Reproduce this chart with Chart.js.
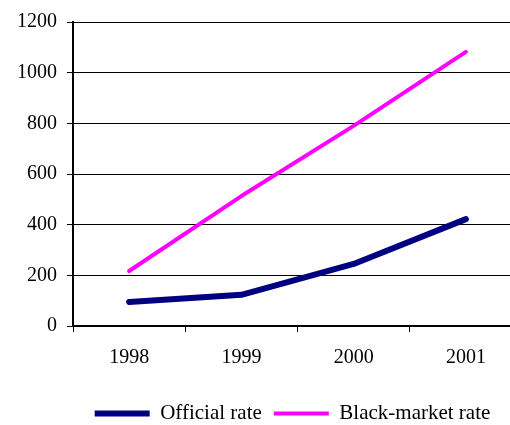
<!DOCTYPE html>
<html>
<head>
<meta charset="utf-8">
<script src="https://cdn.jsdelivr.net/npm/chart.js@4/dist/chart.umd.min.js"></script>
<style>
  html, body { margin: 0; padding: 0; background: #fff; overflow: hidden; }
  #wrap { width: 586px; height: 425px; }
</style>
</head>
<body>
<div id="wrap"><canvas id="rateChart"></canvas></div>
<script>
const years = ['1998', '1999', '2000', '2001'];
const officialRate = [95, 123, 245, 422];
const blackMarketRate = [217, 513, 790, 1082];

const ctx = document.getElementById('rateChart').getContext('2d');
const serif = 'Liberation Serif';

// nudge the legend to the right, like in the original picture
const legendShift = {
    id: 'legendShift',
    afterLayout(chart) {
        chart.legend.left += 28;
        chart.legend.right += 28;
    }
};

const config = {
    type: 'line',
    data: {
        labels: years,
        datasets: [{
            label: 'Official rate',
            data: officialRate,
            borderColor: '#000080',
            backgroundColor: '#000080',
            borderWidth: 6,
            borderCapStyle: 'round',
            borderJoinStyle: 'round',
            pointRadius: 0,
            tension: 0
        }, {
            label: 'Black-market rate',
            data: blackMarketRate,
            borderColor: '#FF00FF',
            backgroundColor: '#FF00FF',
            borderWidth: 4,
            borderCapStyle: 'round',
            borderJoinStyle: 'round',
            pointRadius: 0,
            tension: 0
        }]
    },
    options: {
        responsive: true,
        maintainAspectRatio: false,
        animation: false,
        layout: {
            padding: { left: 7, right: 64, top: 12, bottom: -9 }
        },
        scales: {
            x: {
                offset: true,
                border: { color: '#000', width: 2 },
                grid: {
                    offset: true,
                    drawOnChartArea: false,
                    drawTicks: true,
                    tickLength: 6,
                    tickColor: '#000',
                    tickWidth: 1
                },
                ticks: {
                    color: '#000',
                    padding: 14,
                    font: { family: serif, size: 20 }
                },
                // extra room between the year labels and the legend
                afterFit: (scale) => { scale.height += 7; }
            },
            y: {
                min: 0,
                max: 1200,
                border: { color: '#000', width: 2 },
                grid: {
                    color: '#000',
                    lineWidth: 1,
                    tickLength: 6
                },
                ticks: {
                    stepSize: 200,
                    color: '#000',
                    padding: 10,
                    font: { family: serif, size: 20 },
                    callback: (v) => String(v)
                }
            }
        },
        plugins: {
            legend: {
                position: 'bottom',
                labels: {
                    usePointStyle: true,
                    pointStyle: 'line',
                    pointStyleWidth: 55,
                    padding: 12,
                    color: '#000',
                    font: { family: serif, size: 21 }
                }
            },
            tooltip: { enabled: false }
        }
    },
    plugins: [legendShift]
};

const rateChart = new Chart(ctx, config);
</script>
</body>
</html>
